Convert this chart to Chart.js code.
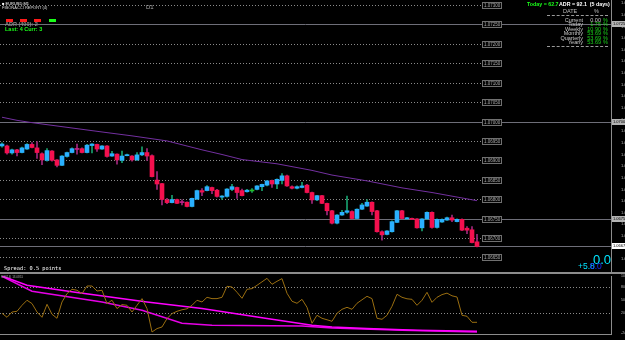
<!DOCTYPE html>
<html>
<head>
<meta charset="utf-8">
<script src="https://cdn.jsdelivr.net/npm/chart.js@4.4.0/dist/chart.umd.min.js"></script>
<style>
  body { margin: 0; background: #000; width: 625px; height: 340px; overflow: hidden; position: relative; font-family: "Liberation Sans", Arial, sans-serif; }
  canvas { position: absolute; left: 0; }
  #main { top: 0; }
  #ind { top: 274px; }
  .t { position: absolute; white-space: pre; line-height: 1; }
  .sep { position: absolute; left: 0; width: 625px; height: 2px; top: 272px; background: #8c8c8c; }
  .mark { position: absolute; top: 19px; width: 7px; height: 3px; }
  .dash { position: absolute; left: 547px; width: 61px; border-top: 1px dashed #9a9a9a; }
</style>
</head>
<body>
<canvas id="main" width="625" height="272"></canvas>
<div class="sep"></div>
<canvas id="ind" width="625" height="66"></canvas>

<!-- top-left info -->
<div class="t" style="left:2px;top:2px;font-size:4px;color:#fff">■ EURUSD,M1</div>
<div class="t" style="left:2px;top:6px;font-size:4px;color:#ddd">FIBONACCI REPORT (4)</div>
<div class="t" style="left:146px;top:4px;font-size:6px;color:#aaa">D1</div>
<div class="mark" style="left:6px;background:#ff1a1a"></div>
<div class="mark" style="left:20px;background:#ff1a1a"></div>
<div class="mark" style="left:34px;background:#ff1a1a"></div>
<div class="mark" style="left:49px;background:#1aff1a"></div>
<div class="t" style="left:5px;top:22px;font-size:5.5px;color:#8a8a8a;font-weight:bold">ADR (400): 2</div>
<div class="t" style="left:5px;top:27px;font-size:5.5px;color:#1aff1a;font-weight:bold">Last: 4 Curr: 3</div>

<!-- top-right ADR table -->
<div class="t" style="left:527px;top:2px;font-size:5.3px;color:#1aff1a;font-weight:bold">Today = 62.7</div>
<div class="t" style="left:559px;top:2px;font-size:5.3px;color:#fff;font-weight:bold">ADR = 92.1  (5 days)</div>
<div class="t" style="left:563px;top:9px;font-size:5.5px;color:#bbb">DATE</div>
<div class="t" style="left:594px;top:9px;font-size:5.5px;color:#bbb">%</div>
<div class="dash" style="top:15px"></div>
<div id="adrRows"></div>
<div class="dash" style="top:46px"></div>

<!-- bottom-right numbers -->
<div class="t" style="left:593px;top:253px;font-size:13px;color:#00e5ff">0.0</div>
<div class="t" style="left:578px;top:262px;font-size:8.5px;color:#00e5ff">+5.8</div>
<div class="t" style="left:590px;top:262px;font-size:8.5px;color:#1a2cff">0.0</div>
<div class="t" style="left:4px;top:266px;font-size:5.3px;color:#fff;font-family:'DejaVu Sans Mono',monospace">Spread: 0.5 points</div>
<div class="t" style="left:1px;top:276px;font-size:3px;color:#aaa">RSI(14) 13.0851</div>

<script>
// EURUSD M1 candles, 19 Nov
const opens = [1.06937, 1.06937, 1.06919, 1.06927, 1.06920, 1.06929, 1.06941, 1.06932, 1.06917, 1.06900,
  1.06924, 1.06901, 1.06887, 1.06910, 1.06920, 1.06929, 1.06930, 1.06920, 1.06938, 1.06941,
  1.06929, 1.06937, 1.06911, 1.06916, 1.06900, 1.06912, 1.06911, 1.06901, 1.06914, 1.06920,
  1.06912, 1.06849, 1.06840, 1.06798, 1.06791, 1.06799, 1.06792, 1.06792, 1.06781, 1.06800,
  1.06822, 1.06822, 1.06830, 1.06823, 1.06805, 1.06807, 1.06825, 1.06830, 1.06822, 1.06819,
  1.06821, 1.06825, 1.06832, 1.06836, 1.06848, 1.06839, 1.06848, 1.06860, 1.06832, 1.06828,
  1.06830, 1.06836, 1.06817, 1.06798, 1.06809, 1.06789, 1.06770, 1.06738, 1.06759, 1.06766,
  1.06768, 1.06750, 1.06774, 1.06782, 1.06792, 1.06770, 1.06716, 1.06709, 1.06716, 1.06740,
  1.06770, 1.06749, 1.06750, 1.06749, 1.06726, 1.06749, 1.06766, 1.06727, 1.06741, 1.06746,
  1.06752, 1.06742, 1.06748, 1.06725, 1.06721, 1.06690];
const highs = [1.06945, 1.06939, 1.06929, 1.06928, 1.06934, 1.06943, 1.06946, 1.06948, 1.06919, 1.06930,
  1.06925, 1.06902, 1.06912, 1.06921, 1.06932, 1.06942, 1.06932, 1.06941, 1.06943, 1.06942,
  1.06938, 1.06938, 1.06923, 1.06917, 1.06924, 1.06916, 1.06912, 1.06920, 1.06935, 1.06930,
  1.06914, 1.06871, 1.06841, 1.06802, 1.06810, 1.06800, 1.06798, 1.06793, 1.06803, 1.06823,
  1.06827, 1.06835, 1.06831, 1.06825, 1.06809, 1.06827, 1.06838, 1.06831, 1.06826, 1.06825,
  1.06827, 1.06835, 1.06839, 1.06848, 1.06849, 1.06852, 1.06866, 1.06862, 1.06834, 1.06834,
  1.06843, 1.06838, 1.06818, 1.06810, 1.06810, 1.06790, 1.06771, 1.06760, 1.06771, 1.06808,
  1.06770, 1.06775, 1.06789, 1.06799, 1.06793, 1.06771, 1.06718, 1.06719, 1.06744, 1.06771,
  1.06771, 1.06753, 1.06751, 1.06750, 1.06750, 1.06767, 1.06767, 1.06749, 1.06749, 1.06754,
  1.06759, 1.06749, 1.06749, 1.06729, 1.06729, 1.06709];
const lows = [1.06934, 1.06916, 1.06916, 1.06911, 1.06919, 1.06928, 1.06932, 1.06905, 1.06889, 1.06898,
  1.06898, 1.06883, 1.06886, 1.06908, 1.06919, 1.06916, 1.06919, 1.06919, 1.06919, 1.06923,
  1.06928, 1.06908, 1.06910, 1.06890, 1.06894, 1.06911, 1.06898, 1.06900, 1.06912, 1.06900,
  1.06857, 1.06825, 1.06785, 1.06788, 1.06790, 1.06788, 1.06785, 1.06780, 1.06780, 1.06799,
  1.06809, 1.06821, 1.06814, 1.06805, 1.06799, 1.06805, 1.06822, 1.06802, 1.06808, 1.06818,
  1.06817, 1.06824, 1.06822, 1.06834, 1.06830, 1.06827, 1.06839, 1.06833, 1.06826, 1.06826,
  1.06829, 1.06816, 1.06789, 1.06796, 1.06788, 1.06759, 1.06736, 1.06736, 1.06758, 1.06763,
  1.06749, 1.06749, 1.06773, 1.06781, 1.06759, 1.06715, 1.06694, 1.06708, 1.06715, 1.06739,
  1.06749, 1.06748, 1.06747, 1.06725, 1.06718, 1.06747, 1.06725, 1.06725, 1.06740, 1.06745,
  1.06742, 1.06741, 1.06719, 1.06711, 1.06687, 1.06677];
const closes = [1.06942, 1.06919, 1.06927, 1.06920, 1.06932, 1.06941, 1.06933, 1.06920, 1.06901, 1.06925,
  1.06900, 1.06887, 1.06911, 1.06920, 1.06930, 1.06928, 1.06920, 1.06939, 1.06942, 1.06929,
  1.06937, 1.06910, 1.06917, 1.06901, 1.06911, 1.06914, 1.06901, 1.06914, 1.06920, 1.06911,
  1.06858, 1.06839, 1.06799, 1.06791, 1.06799, 1.06789, 1.06791, 1.06781, 1.06802, 1.06822,
  1.06818, 1.06832, 1.06822, 1.06807, 1.06808, 1.06826, 1.06832, 1.06817, 1.06809, 1.06823,
  1.06822, 1.06834, 1.06838, 1.06847, 1.06839, 1.06851, 1.06860, 1.06834, 1.06828, 1.06832,
  1.06834, 1.06817, 1.06798, 1.06809, 1.06789, 1.06770, 1.06738, 1.06759, 1.06766, 1.06770,
  1.06750, 1.06774, 1.06785, 1.06792, 1.06768, 1.06716, 1.06708, 1.06718, 1.06742, 1.06770,
  1.06750, 1.06752, 1.06748, 1.06726, 1.06749, 1.06766, 1.06727, 1.06748, 1.06748, 1.06752,
  1.06746, 1.06748, 1.06720, 1.06720, 1.06688, 1.06678];

// moving average on price pane (candle index, price)
const maIndex = [0, 3, 6, 13, 20, 26, 33, 40, 44, 48, 55, 62, 66, 73, 80, 86, 92, 95];
const maValue = [1.07011, 1.07003, 1.06997, 1.06985, 1.06973, 1.06963, 1.06950, 1.06927, 1.06915,
  1.06902, 1.06891, 1.06874, 1.06862, 1.06847, 1.06829, 1.06817, 1.06803, 1.06796];

// price levels drawn as dotted lines with labels, and the solid ones
const levels = [1.07300, 1.07250, 1.07200, 1.07150, 1.07100, 1.07050, 1.07000, 1.06950,
  1.06900, 1.06850, 1.06800, 1.06750, 1.06700, 1.06650];
const solidLevels = [1.07250, 1.07000, 1.06750];
const priceTicks = [1.07305, 1.07275, 1.07245, 1.07215, 1.07185, 1.07155, 1.07125, 1.07095,
  1.07065, 1.07035, 1.07005, 1.06975, 1.06945, 1.06915, 1.06885, 1.06855, 1.06825, 1.06795,
  1.06765, 1.06735, 1.06705, 1.06675, 1.06645];

// oscillator pane
const oscValue = [19.9, 10.7, 22.8, 24.4, 38.2, 49.7, 42.1, 22.8, 10.7, 40.5,
  17.6, 8.4, 45.8, 65.0, 74.8, 72.6, 65.0, 82.4, 82.4, 70.9,
  72.6, 42.1, 49.7, 30.6, 39.8, 38.2, 22.8, 38.2, 53.5, 30.6,
  -23.0, -15.2, -11.5, 7.7, 19.2, 24.4, 27.9, 30.2, 38.2, 49.7,
  45.8, 56.5, 53.5, 53.5, 56.5, 81.7, 80.1, 68.0, 54.2, 74.8,
  76.4, 84.0, 92.0, 100.0, 86.3, 93.2, 99.3, 65.7, 47.4, 42.8,
  51.9, 33.6, -3.0, 15.3, 8.4, 5.0, 1.5, 19.9, 29.0, 33.6,
  29.0, 42.8, 50.8, 58.8, 53.5, 8.4, 6.1, 15.3, 35.9, 63.4,
  56.5, 53.1, 51.9, 38.2, 49.7, 68.0, 45.0, 56.5, 62.7, 66.1,
  59.9, 57.2, 15.3, 13.0, -0.8, -0.8];
const slowIndex = [0, 5, 15, 29, 40, 53, 62, 66, 73, 83, 95];
const slowValue = [105.3, 84.0, 67.3, 45.8, 30.6, 7.7, -7.6, -11.5, -15.2, -19.1, -21.4];
const fastIndex = [0, 6, 20, 28, 36, 42, 60, 66, 80, 95];
const fastValue = [104.6, 70.3, 45.8, 26.7, -3.0, -7.6, -9.2, -13.8, -19.1, -23.0];
const oscLevels = [80, 20];
const oscTicks = [105.3266, 80, 50, 20, -24.3266];

// time axis labels, every 4th candle
const timeTickIndex = [0, 4, 8, 12, 16, 20, 24, 28, 32, 36, 40, 44, 48, 52, 56, 60, 64, 68, 72, 76, 80, 84, 88, 92];
const timeTickLabels = ['19 Nov 2015', '19 Nov 08:57', '19 Nov 09:01', '19 Nov 09:05', '19 Nov 09:09',
  '19 Nov 09:13', '19 Nov 09:17', '19 Nov 09:21', '19 Nov 09:25', '19 Nov 09:29', '19 Nov 09:33',
  '19 Nov 09:37', '19 Nov 09:41', '19 Nov 09:45', '19 Nov 09:49', '19 Nov 09:53', '19 Nov 09:57',
  '19 Nov 10:01', '19 Nov 10:05', '19 Nov 10:09', '19 Nov 10:13', '19 Nov 10:17', '19 Nov 10:21', '19 Nov 10:25'];

// ADR table rows
const adrLabels = ['Current', 'Today', 'Weekly', 'Monthly', 'Quarterly', 'Yearly'];
const adrValues = ['0.00', '1.75', '10.90', '53.69', '53.69', '53.69'];

const FONT = '"Liberation Sans", Arial, sans-serif';
// candle centres land on whole pixels: 2 + 5 * index
const xMin = -0.4, xMax = 121.8;

// ADR rows as html text
const rowsDiv = document.getElementById('adrRows');
adrLabels.forEach((lab, k) => {
  const top = 18 + k * 4.4;
  rowsDiv.insertAdjacentHTML('beforeend',
    `<div class="t" style="right:42px;top:${top}px;font-size:5.5px;color:#c8c8c8">${lab}</div>` +
    `<div class="t" style="right:24px;top:${top}px;font-size:5.5px;color:${k === 0 ? '#c8c8c8' : '#19d219'}">${adrValues[k]}</div>` +
    `<div class="t" style="left:603px;top:${top}px;font-size:5.5px;color:#19d219">%</div>`);
});

// candle colours
const isDoji = opens.map((o, i) => Math.abs(closes[i] - o) < 0.000015);
const isBull = opens.map((o, i) => closes[i] >= o);
const wickColors = isBull.map(b => b ? '#17a06e' : '#a0287e');
const bodyColors = isBull.map((b, i) => isDoji[i] ? (b ? '#22c022' : '#c0208a') : (b ? '#2ab0ff' : '#f5104e'));

// level lines plugin (dotted levels, labels, solid lines)
const levelLines = {
  id: 'levelLines',
  beforeDatasetsDraw(chart) {
    const { ctx, chartArea: a, scales: { x, y } } = chart;
    const boxLeft = Math.round(x.getPixelForValue(96));
    ctx.save();
    ctx.lineWidth = 1;
    ctx.strokeStyle = '#8a8a8a';
    ctx.setLineDash([1, 2]);
    levels.forEach(v => {
      const py = Math.round(y.getPixelForValue(v)) + 0.5;
      ctx.beginPath(); ctx.moveTo(a.left, py); ctx.lineTo(boxLeft, py); ctx.stroke();
    });
    ctx.setLineDash([]);
    ctx.strokeStyle = '#6e6e78';
    solidLevels.concat([closes[closes.length - 1]]).forEach(v => {
      const py = Math.round(y.getPixelForValue(v)) + 0.5;
      ctx.beginPath(); ctx.moveTo(a.left, py); ctx.lineTo(a.right, py); ctx.stroke();
    });
    ctx.font = '4.5px ' + FONT;
    ctx.textBaseline = 'middle';
    levels.forEach(v => {
      const py = Math.round(y.getPixelForValue(v));
      ctx.fillStyle = '#050505';
      ctx.fillRect(boxLeft, py - 3, 19, 6);
      ctx.strokeStyle = '#707070';
      ctx.strokeRect(boxLeft + 0.5, py - 2.5, 19, 6);
      ctx.fillStyle = '#a8a8a8';
      ctx.fillText(v.toFixed(5), boxLeft + 2, py + 0.5);
    });
    ctx.restore();
  },
  afterDraw(chart) {
    const { ctx, chartArea: a, scales: { y } } = chart;
    ctx.save();
    ctx.font = '4px ' + FONT;
    ctx.textBaseline = 'middle';
    const last = closes[closes.length - 1];
    solidLevels.concat([last]).forEach(v => {
      const py = Math.round(y.getPixelForValue(v));
      ctx.fillStyle = v === last ? '#ffffff' : '#b4b4b4';
      ctx.fillRect(a.right + 1, py - 3, 14, 6);
      ctx.fillStyle = '#000';
      ctx.fillText(v.toFixed(5), a.right + 2, py);
    });
    ctx.restore();
  }
};

const candleIdx = opens.map((_, i) => i);

new Chart(document.getElementById('main'), {
  type: 'bar',
  data: {
    datasets: [
      {
        type: 'line',
        data: maIndex.map((x, k) => ({ x, y: maValue[k] })),
        borderColor: '#7330a0',
        borderWidth: 1,
        pointRadius: 0,
        order: 0
      },
      {
        data: candleIdx.map(i => ({ x: i, y: [opens[i], closes[i]] })),
        backgroundColor: bodyColors,
        barThickness: 4,
        minBarLength: 1,
        grouped: false,
        borderWidth: 0,
        order: 1
      },
      {
        data: candleIdx.map(i => ({ x: i, y: [lows[i], highs[i]] })),
        backgroundColor: wickColors,
        barThickness: 1,
        grouped: false,
        borderWidth: 0,
        order: 2
      }
    ]
  },
  options: {
    responsive: false,
    animation: false,
    layout: { padding: 0 },
    plugins: { legend: { display: false }, tooltip: { enabled: false } },
    scales: {
      x: { type: 'linear', min: xMin, max: xMax, offset: false, display: false },
      y: {
        position: 'right',
        min: 1.066122,
        max: 1.073131,
        grid: { display: false },
        border: { color: '#8c8c8c' },
        afterBuildTicks: s => { s.ticks = priceTicks.map(v => ({ value: v })); },
        afterFit: s => { s.width = 14; s.paddingTop = 0; s.paddingBottom = 0; },
        ticks: {
          color: '#b8b8b8',
          padding: 2,
          font: { size: 4, family: FONT },
          callback: v => v.toFixed(5)
        }
      }
    }
  },
  plugins: [levelLines]
});

// oscillator pane
const oscGuides = {
  id: 'oscGuides',
  beforeDatasetsDraw(chart) {
    const { ctx, chartArea: a, scales: { y } } = chart;
    ctx.save();
    ctx.strokeStyle = '#8a8a8a';
    ctx.lineWidth = 1;
    ctx.setLineDash([1, 2]);
    oscLevels.forEach(v => {
      const py = Math.round(y.getPixelForValue(v)) + 0.5;
      ctx.beginPath(); ctx.moveTo(a.left, py); ctx.lineTo(a.right, py); ctx.stroke();
    });
    ctx.restore();
  }
};

new Chart(document.getElementById('ind'), {
  type: 'line',
  data: {
    datasets: [
      {
        data: candleIdx.map(i => ({ x: i, y: oscValue[i] })),
        borderColor: '#9a6e10',
        borderWidth: 1,
        pointRadius: 0,
        tension: 0
      },
      {
        data: slowIndex.map((x, k) => ({ x, y: slowValue[k] })),
        borderColor: '#ff00ff',
        borderWidth: 1.5,
        pointRadius: 0
      },
      {
        data: fastIndex.map((x, k) => ({ x, y: fastValue[k] })),
        borderColor: '#e600e6',
        borderWidth: 1.5,
        pointRadius: 0
      }
    ]
  },
  options: {
    responsive: false,
    animation: false,
    layout: { padding: { top: 2, left: 0, right: 0, bottom: 0 } },
    plugins: { legend: { display: false }, tooltip: { enabled: false } },
    scales: {
      x: {
        type: 'linear', min: xMin, max: xMax, offset: false,
        grid: { display: false },
        border: { color: '#8c8c8c' },
        afterBuildTicks: s => { s.ticks = timeTickIndex.map(v => ({ value: v })); },
        afterFit: s => { s.height = 6; s.paddingLeft = 0; s.paddingRight = 0; },
        ticks: {
          autoSkip: false, maxRotation: 0, align: 'start', padding: 1,
          color: '#b8b8b8',
          font: { size: 3.5, family: FONT },
          callback: (v, k) => timeTickLabels[k]
        }
      },
      y: {
        position: 'right',
        min: -27.6,
        max: 105.33,
        grid: { display: false },
        border: { color: '#8c8c8c' },
        afterBuildTicks: s => { s.ticks = oscTicks.map(v => ({ value: v })); },
        afterFit: s => { s.width = 14; s.paddingTop = 0; s.paddingBottom = 0; },
        ticks: {
          color: '#b8b8b8',
          padding: 2,
          font: { size: 3.5, family: FONT },
          callback: v => String(v)
        }
      }
    }
  },
  plugins: [oscGuides]
});
</script>
</body>
</html>
